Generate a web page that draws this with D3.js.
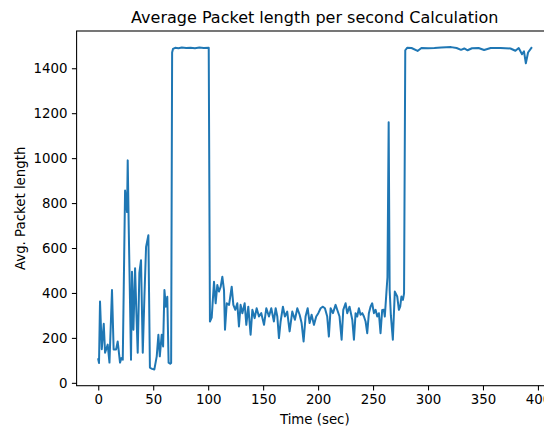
<!DOCTYPE html>
<html>
<head>
<meta charset="utf-8">
<script src="https://cdn.jsdelivr.net/npm/d3@7"></script>
<style>
  body { margin: 0; background: #fff; }
  svg { display: block; font-family: "DejaVu Sans", sans-serif; }
</style>
</head>
<body>
<svg id="chart" width="544" height="430"></svg>
<script>
// time (sec) of each reading
const times = [
  0, 0.7, 1.6, 3.2, 5, 6.2, 8.6, 10.2, 12.5, 14, 16.2, 17.7, 19.8, 21, 22.3,
  24.4, 26.2, 26.8, 27.7, 29.8, 30.7, 32, 33.5, 34.7, 35.9, 37.4, 38.9, 40.5,
  42, 43.5, 45.6, 47, 49, 51, 53.2, 54.7, 56, 57.7, 59, 60.2, 61.5, 62.8, 64,
  65.5, 66.3,
  67.2, 68, 70, 73, 76, 80, 84, 88, 92, 96, 100.5,
  101.6, 103.2, 105.3, 106.8, 108.3, 109.8, 111.4, 112.9, 114.4, 115.3, 116.9,
  119, 121.4, 122.9, 124.7, 126.5, 128, 129.5, 131.1, 133.2, 134.7, 136.5,
  138.6, 140.2, 142.3, 144.1, 146.2, 148.3, 150.8, 152.9, 155.3, 157.4, 159.8,
  161.4, 162.9, 164.4, 165.9, 168, 169.8, 171.9, 174.1, 176.5, 178.9, 181.1,
  183.2, 185, 186.8, 188.6, 190.5, 192.3, 194.1, 196.2, 198.3, 200.2, 202.3,
  204.4, 206.2, 208.3, 209.8, 211.4, 213.5, 215.9, 217.4, 219.5, 221.4, 222.9,
  225, 226.5, 228.6, 231.1, 232.6, 234.1, 235.6, 237.1, 238.6, 240.2, 241.7,
  243.2, 244.7, 246.2, 247.7, 249.2, 250.8, 252.3, 253.8, 255.3, 256.8, 258.3,
  259.8, 260.7, 262.2, 263.1, 264.2, 265.1, 266.2, 268, 269.8, 272, 273.5,
  274.7, 275.8, 277.2, 278.2,
  279.3, 281, 285, 290.5, 294, 300, 305.8, 312, 321, 326, 330, 333, 336, 340,
  346, 351, 357, 366, 375, 379.5, 382.5, 385.5, 387.3, 389, 391, 394
]

// average packet length at each reading
const avgLength = [
  105, 88, 362, 150, 263, 134, 170, 90, 413, 148, 148, 184, 90, 110, 103,
  856, 760, 990, 700, 103, 494, 236, 510, 311, 134, 489, 546, 134,
  384, 605, 657, 68, 62, 59, 118, 214, 118, 214, 162, 413, 339, 383, 90,
  85, 88,
  1470, 1486, 1491, 1489, 1492, 1490, 1491, 1489, 1492, 1490, 1491,
  273, 290, 450, 354, 435, 406, 428, 472, 413, 236, 354,
  347, 428, 347, 325, 354, 251, 347, 310, 354, 258, 339,
  214, 325, 288, 332, 295, 310, 258, 332, 295, 332, 273,
  332, 295, 199, 273, 339, 295, 317, 229, 317, 281, 332,
  303, 266, 184, 295, 332, 266, 303, 258, 295, 310, 332,
  339, 332, 295, 206, 332, 310, 347, 325, 295, 192, 325,
  354, 310, 339, 281, 192, 310, 295, 332, 303, 310, 295,
  273, 221, 310, 339, 354, 310, 325, 295, 310, 221, 324,
  325, 295, 406, 470, 1160, 413, 300, 192, 406, 384, 325,
  339, 384, 369, 398,
  1480, 1491, 1490, 1477, 1490, 1489, 1490, 1492, 1494, 1490, 1482, 1488, 1480, 1489,
  1490, 1481, 1490, 1490, 1488, 1478, 1490, 1462, 1475, 1422, 1470, 1490
]

const yTicks = [0, 200, 400, 600, 800, 1000, 1200, 1400]
const xTicks = [0, 50, 100, 150, 200, 250, 300, 350, 400]

const data = times.map((t, i) => ({t: t, v: avgLength[i]}))

const svg = d3.select('#chart')

// axes box (matplotlib default subplot position, cropped)
const box = {left: 76.6, right: 553, top: 31, bottom: 385.7}

// matplotlib-like 5% data margins
function padded (ext) {
  const m = (ext[1] - ext[0]) * 0.05
  return [ext[0] - m, ext[1] + m]
}

const x = d3.scaleLinear()
  .domain(padded(d3.extent(times)))
  .range([box.left, box.right])

const y = d3.scaleLinear()
  .domain(padded(d3.extent(avgLength)))
  .range([box.bottom, box.top])

// line
const line = d3.line()
  .x((d) => x(d.t))
  .y((d) => y(d.v))

svg.append('path')
  .datum(data)
  .attr('d', line)
  .attr('fill', 'none')
  .attr('stroke', '#1f77b4')
  .attr('stroke-width', 2)
  .attr('stroke-linejoin', 'round')
  .attr('stroke-linecap', 'square')

// x axis
const xAxis = d3.axisBottom(x)
  .tickValues(xTicks)
  .tickSize(4.7)
  .tickPadding(4)
  .tickFormat(d3.format('d'))

const gx = svg.append('g')
  .attr('transform', `translate(0,${box.bottom})`)
  .call(xAxis)
gx.select('.domain').remove()

// y axis
const yAxis = d3.axisLeft(y)
  .tickValues(yTicks)
  .tickSize(4.7)
  .tickPadding(4.5)
  .tickFormat(d3.format('d'))

const gy = svg.append('g')
  .attr('transform', `translate(${box.left},0)`)
  .call(yAxis)
gy.select('.domain').remove()

svg.selectAll('.tick line')
  .attr('stroke', '#000')
  .attr('stroke-width', 1.07)
svg.selectAll('.tick text')
  .attr('fill', '#000')
  .style('font-family', '"DejaVu Sans", sans-serif')
  .style('font-size', '13.33px')

// spines
svg.append('rect')
  .attr('x', box.left)
  .attr('y', box.top)
  .attr('width', box.right - box.left)
  .attr('height', box.bottom - box.top)
  .attr('fill', 'none')
  .attr('stroke', '#000')
  .attr('stroke-width', 1.07)

// title and labels
const cx = (box.left + box.right) / 2

svg.append('text')
  .text('Average Packet length per second Calculation')
  .attr('x', cx)
  .attr('y', 23)
  .attr('text-anchor', 'middle')
  .style('font-size', '16px')

svg.append('text')
  .text('Time (sec)')
  .attr('x', cx)
  .attr('y', 424)
  .attr('text-anchor', 'middle')
  .style('font-size', '13.33px')

svg.append('text')
  .text('Avg. Packet length')
  .attr('transform', `translate(25,${(box.top + box.bottom) / 2}) rotate(-90)`)
  .attr('text-anchor', 'middle')
  .style('font-size', '13.33px')
</script>
</body>
</html>
